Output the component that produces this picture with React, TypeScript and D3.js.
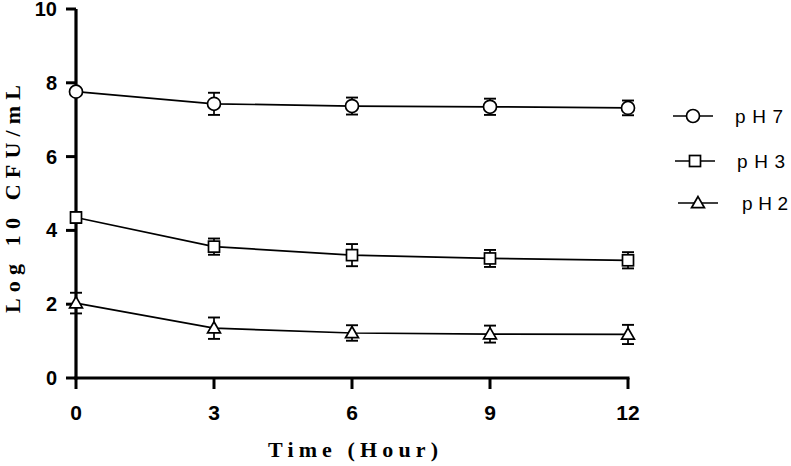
import * as d3 from 'd3';

const hours = [0, 3, 6, 9, 12];
const ph7Mean = [7.76, 7.43, 7.37, 7.35, 7.32];
const ph7Err = [0.08, 0.3, 0.23, 0.22, 0.2];
const ph3Mean = [4.35, 3.56, 3.33, 3.24, 3.19];
const ph3Err = [0.15, 0.22, 0.3, 0.23, 0.22];
const ph2Mean = [2.03, 1.35, 1.22, 1.19, 1.18];
const ph2Err = [0.28, 0.29, 0.21, 0.23, 0.26];
const seriesNames = ['pH7', 'pH3', 'pH2'];
const yTicks = [0, 2, 4, 6, 8, 10];
const xTicks = [0, 3, 6, 9, 12];

const W = 791;
const H = 466;

const x = d3.scaleLinear().domain([0, 12]).range([76, 628]);
const y = d3.scaleLinear().domain([0, 10]).range([378, 9]);

const sans = "'Liberation Sans', Arial, sans-serif";
const serif = "'Liberation Serif', 'Times New Roman', serif";

const Marker = ({ kind, cx, cy }: { kind: string; cx: number; cy: number }) => {
  if (kind === 'circle') {
    return <circle cx={cx} cy={cy} r={6.5} fill="#fff" stroke="#000" strokeWidth={1.7} />;
  }
  if (kind === 'square') {
    return <rect x={cx - 5.5} y={cy - 5.5} width={11} height={11} fill="#fff" stroke="#000" strokeWidth={1.7} />;
  }
  const tri = d3.symbol().type(d3.symbolTriangle).size(72)();
  return <path d={tri || ''} transform={`translate(${cx},${cy + 1})`} fill="#fff" stroke="#000" strokeWidth={1.7} />;
};

export default function App() {
  const series = [
    { name: seriesNames[0], mean: ph7Mean, err: ph7Err, kind: 'circle' },
    { name: seriesNames[1], mean: ph3Mean, err: ph3Err, kind: 'square' },
    { name: seriesNames[2], mean: ph2Mean, err: ph2Err, kind: 'triangle' },
  ];

  const line = d3
    .line<number>()
    .x((_, i) => x(hours[i]))
    .y((d) => y(d));

  // legend rows: marker centre, text start and width as in the original
  const legendY = [116, 161, 203];
  const legendX = [693, 695, 698];
  const legendText = [735, 737, 742];
  const legendLen = [48, 48, 46];

  return (
    <svg width={W} height={H} style={{ position: 'absolute', left: 0, top: 0, background: '#fff' }}>
      {/* axes */}
      <line x1={x(0)} x2={x(0)} y1={y(0) + 1.5} y2={y(10)} stroke="#000" strokeWidth={3.2} />
      <line x1={x(0) - 1.5} x2={x(12) + 1.5} y1={y(0)} y2={y(0)} stroke="#000" strokeWidth={3.2} />
      {yTicks.map((t) => (
        <g key={'y' + t}>
          <line x1={x(0) - 10} x2={x(0)} y1={y(t)} y2={y(t)} stroke="#000" strokeWidth={3} />
          <text x={57} y={y(t)} dy="0.35em" textAnchor="end" fontFamily={sans} fontWeight="bold" fontSize={20}>
            {t}
          </text>
        </g>
      ))}
      {xTicks.map((t) => (
        <g key={'x' + t}>
          <line x1={x(t)} x2={x(t)} y1={y(0)} y2={y(0) + 11} stroke="#000" strokeWidth={3} />
          <text x={x(t)} y={420} textAnchor="middle" fontFamily={sans} fontWeight="bold" fontSize={21}>
            {t}
          </text>
        </g>
      ))}

      {/* axis titles */}
      <text
        transform="translate(20,199) rotate(-90)"
        textAnchor="middle"
        fontFamily={serif}
        fontWeight="bold"
        fontSize={22}
        textLength={228}
        lengthAdjust="spacing"
      >
        Log 10 CFU/mL
      </text>
      <text
        x={353}
        y={457}
        textAnchor="middle"
        fontFamily={serif}
        fontWeight="bold"
        fontSize={22}
        textLength={170}
        lengthAdjust="spacing"
      >
        Time (Hour)
      </text>

      {/* series */}
      {series.map((s) => (
        <g key={s.name}>
          <path d={line(s.mean) || ''} fill="none" stroke="#000" strokeWidth={1.7} />
          {s.mean.map((m, i) => {
            const cx = x(hours[i]);
            const top = y(m + s.err[i]);
            const bot = y(m - s.err[i]);
            return (
              <g key={i}>
                <line x1={cx} x2={cx} y1={top} y2={bot} stroke="#000" strokeWidth={1.7} />
                <line x1={cx - 6} x2={cx + 6} y1={top} y2={top} stroke="#000" strokeWidth={1.9} />
                <line x1={cx - 6} x2={cx + 6} y1={bot} y2={bot} stroke="#000" strokeWidth={1.9} />
                <Marker kind={s.kind} cx={cx} cy={y(m)} />
              </g>
            );
          })}
        </g>
      ))}

      {/* legend */}
      {series.map((s, i) => (
        <g key={'lg' + s.name}>
          <line
            x1={legendX[i] - 20}
            x2={legendX[i] + 20}
            y1={legendY[i]}
            y2={legendY[i]}
            stroke="#000"
            strokeWidth={1.7}
          />
          <Marker kind={s.kind} cx={legendX[i]} cy={legendY[i]} />
          <text
            x={legendText[i]}
            y={legendY[i]}
            dy="0.36em"
            fontFamily={sans}
            fontSize={19}
            textLength={legendLen[i]}
            lengthAdjust="spacing"
          >
            {s.name}
          </text>
        </g>
      ))}
    </svg>
  );
}
